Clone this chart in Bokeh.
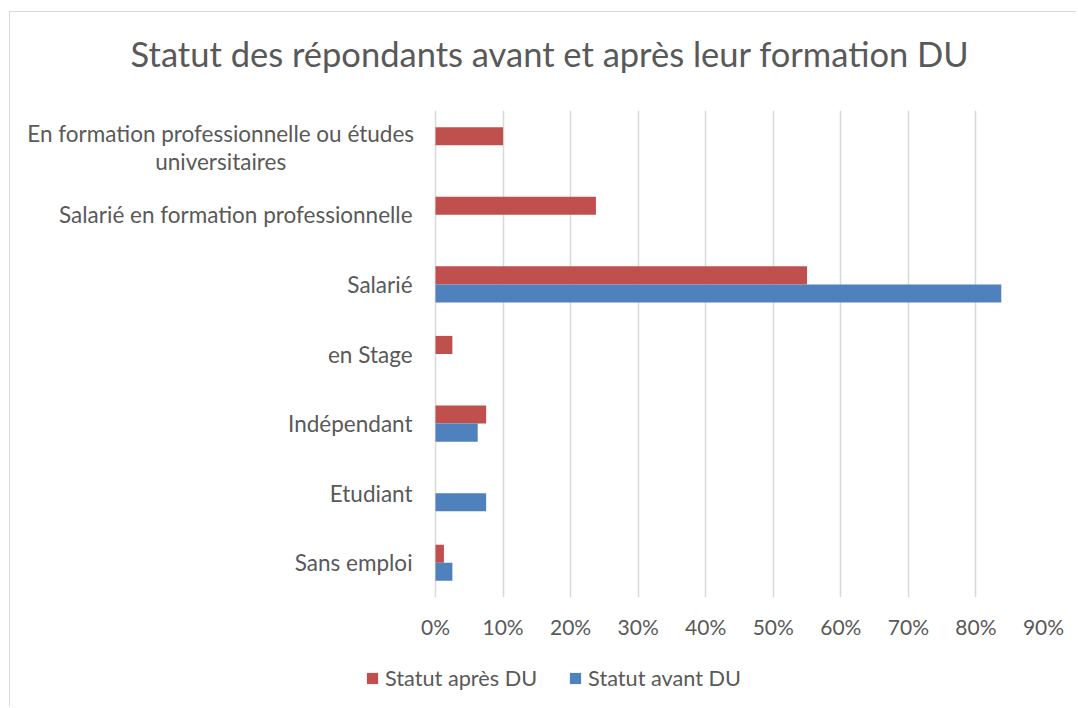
from bokeh.plotting import figure
from bokeh.layouts import column
from bokeh.models import (ColumnDataSource, FactorRange, Range1d, Legend, LegendItem,
                          NumeralTickFormatter, FixedTicker)
from bokeh.transform import dodge
from bokeh.core.properties import value
from bokeh.embed import file_html
from bokeh.resources import INLINE

# ---- data ----
categories = ["Sans emploi", "Etudiant", "Indépendant", "en Stage", "Salarié",
              "Salarié en formation professionnelle",
              "En formation professionnelle ou études\nuniversitaires"]
apres = [0.0125, 0.0, 0.075, 0.025, 0.55, 0.2375, 0.10]
avant = [0.025, 0.075, 0.0625, 0.0, 0.8375, 0.0, 0.0]
x_ticks = [0.0, 0.1, 0.2, 0.3, 0.4, 0.5, 0.6, 0.7, 0.8, 0.9]
series_names = ["Statut après DU", "Statut avant DU"]
title_text = "Statut des répondants avant et après leur formation DU"

# ---- style ----
FONT = "Lato"
TXT = "#595959"
RED = "#C0504D"
BLUE = "#4F81BD"
GRID = "#D9D9D9"
W = 1066
FRAME_W = 1033             # frame width shared by the three stacked strips
LABEL_RIGHT_X = -0.034     # right edge of one-line category labels (data units)
LABEL_CENTER_X = -0.318    # centre of wrapped category labels (data units)
CAT_FS = "22.5px"


def bare(fig):
    fig.title = None
    fig.outline_line_color = None
    fig.background_fill_color = "white"
    fig.border_fill_color = "white"
    return fig


# ---------- title strip ----------
pt = bare(figure(width=W, height=98, output_backend="svg", toolbar_location=None,
                 x_range=Range1d(0, FRAME_W), y_range=Range1d(0, 98),
                 x_axis_location=None, y_axis_location=None, min_border=0,
                 min_border_right=W - FRAME_W))
pt.grid.visible = False
pt.text(x=[539.5], y=[57], text=[title_text], text_align="center",
        text_baseline="alphabetic", text_font=value(FONT), text_font_size="34.5px",
        text_color=TXT)

# ---------- main chart ----------
src = ColumnDataSource(dict(cat=categories, apres=apres, avant=avant))

p = bare(figure(width=W, height=537, output_backend="svg", toolbar_location=None,
                y_range=FactorRange(*categories), x_range=Range1d(-0.6291, 0.9),
                min_border_left=0, min_border_right=W - FRAME_W, min_border_top=0,
                min_border_bottom=50))

p.hbar(y=dodge("cat", 0.13, range=p.y_range), right="apres", left=0,
       height=0.26, color=RED, line_color=None, source=src)
p.hbar(y=dodge("cat", -0.13, range=p.y_range), right="avant", left=0,
       height=0.26, color=BLUE, line_color=None, source=src)

# category labels (drawn in the plot frame so that wrapped labels can be centred)
one_line = [c for c in categories if "\n" not in c]
wrapped = [c for c in categories if "\n" in c]
src1 = ColumnDataSource(dict(cat=one_line, txt=one_line,
                             x=[LABEL_RIGHT_X] * len(one_line)))
p.text(x="x", y="cat", text="txt", source=src1, text_align="right",
       text_baseline="middle", text_font=value(FONT), text_font_size=CAT_FS,
       text_color=TXT)
if wrapped:
    first = [c.split("\n")[0] for c in wrapped]
    second = [c.split("\n")[1] for c in wrapped]
    src2 = ColumnDataSource(dict(cat=wrapped, l1=first, l2=second,
                                 x=[LABEL_CENTER_X] * len(wrapped)))
    p.text(x="x", y=dodge("cat", 0.17, range=p.y_range), text="l1", source=src2,
           text_align="center", text_baseline="middle", text_font=value(FONT),
           text_font_size=CAT_FS, text_color=TXT)
    p.text(x="x", y=dodge("cat", -0.24, range=p.y_range), text="l2", source=src2,
           text_align="center", text_baseline="middle", text_font=value(FONT),
           text_font_size=CAT_FS, text_color=TXT)

p.xaxis.ticker = FixedTicker(ticks=x_ticks)
p.xaxis.formatter = NumeralTickFormatter(format="0%")
p.xaxis.axis_line_color = None
p.xaxis.major_tick_line_color = None
p.xaxis.minor_tick_line_color = None
p.xaxis.major_tick_out = 0
p.xaxis.major_label_text_font = FONT
p.xaxis.major_label_text_font_size = "21px"
p.xaxis.major_label_text_color = TXT
p.xaxis.major_label_standoff = 16

p.yaxis.visible = False
p.ygrid.grid_line_color = None
p.xgrid.grid_line_color = GRID
p.xgrid.grid_line_width = 1.5
p.xgrid.ticker = FixedTicker(ticks=x_ticks)

# ---------- legend strip ----------
pl = bare(figure(width=W, height=59, output_backend="svg", toolbar_location=None,
                 x_range=Range1d(0, 1), y_range=Range1d(0, 1),
                 x_axis_location=None, y_axis_location=None, min_border=0,
                 min_border_right=W - FRAME_W))
pl.grid.visible = False
# swatch renderers (their single bar lies outside the visible range)
la = pl.hbar(y=[-5], left=[0], right=[1], height=1, color=RED, line_color=None)
lb = pl.hbar(y=[-5], left=[0], right=[1], height=1, color=BLUE, line_color=None)
legend = Legend(items=[LegendItem(label=series_names[0], renderers=[la]),
                       LegendItem(label=series_names[1], renderers=[lb])],
                orientation="horizontal", location=(355, 15),
                glyph_width=14, glyph_height=14, label_standoff=6, spacing=31,
                padding=0, margin=0, border_line_color=None,
                background_fill_alpha=0, label_text_font=FONT,
                label_text_font_size="21.7px", label_text_color=TXT)
pl.add_layout(legend, "center")

layout = column(pt, p, pl, spacing=0,
                styles={"margin-left": "9px", "margin-top": "11px",
                        "border-left": "1px solid #D9D9D9",
                        "border-top": "1px solid #D9D9D9"})

open("out.html", "w").write(file_html(layout, INLINE))
